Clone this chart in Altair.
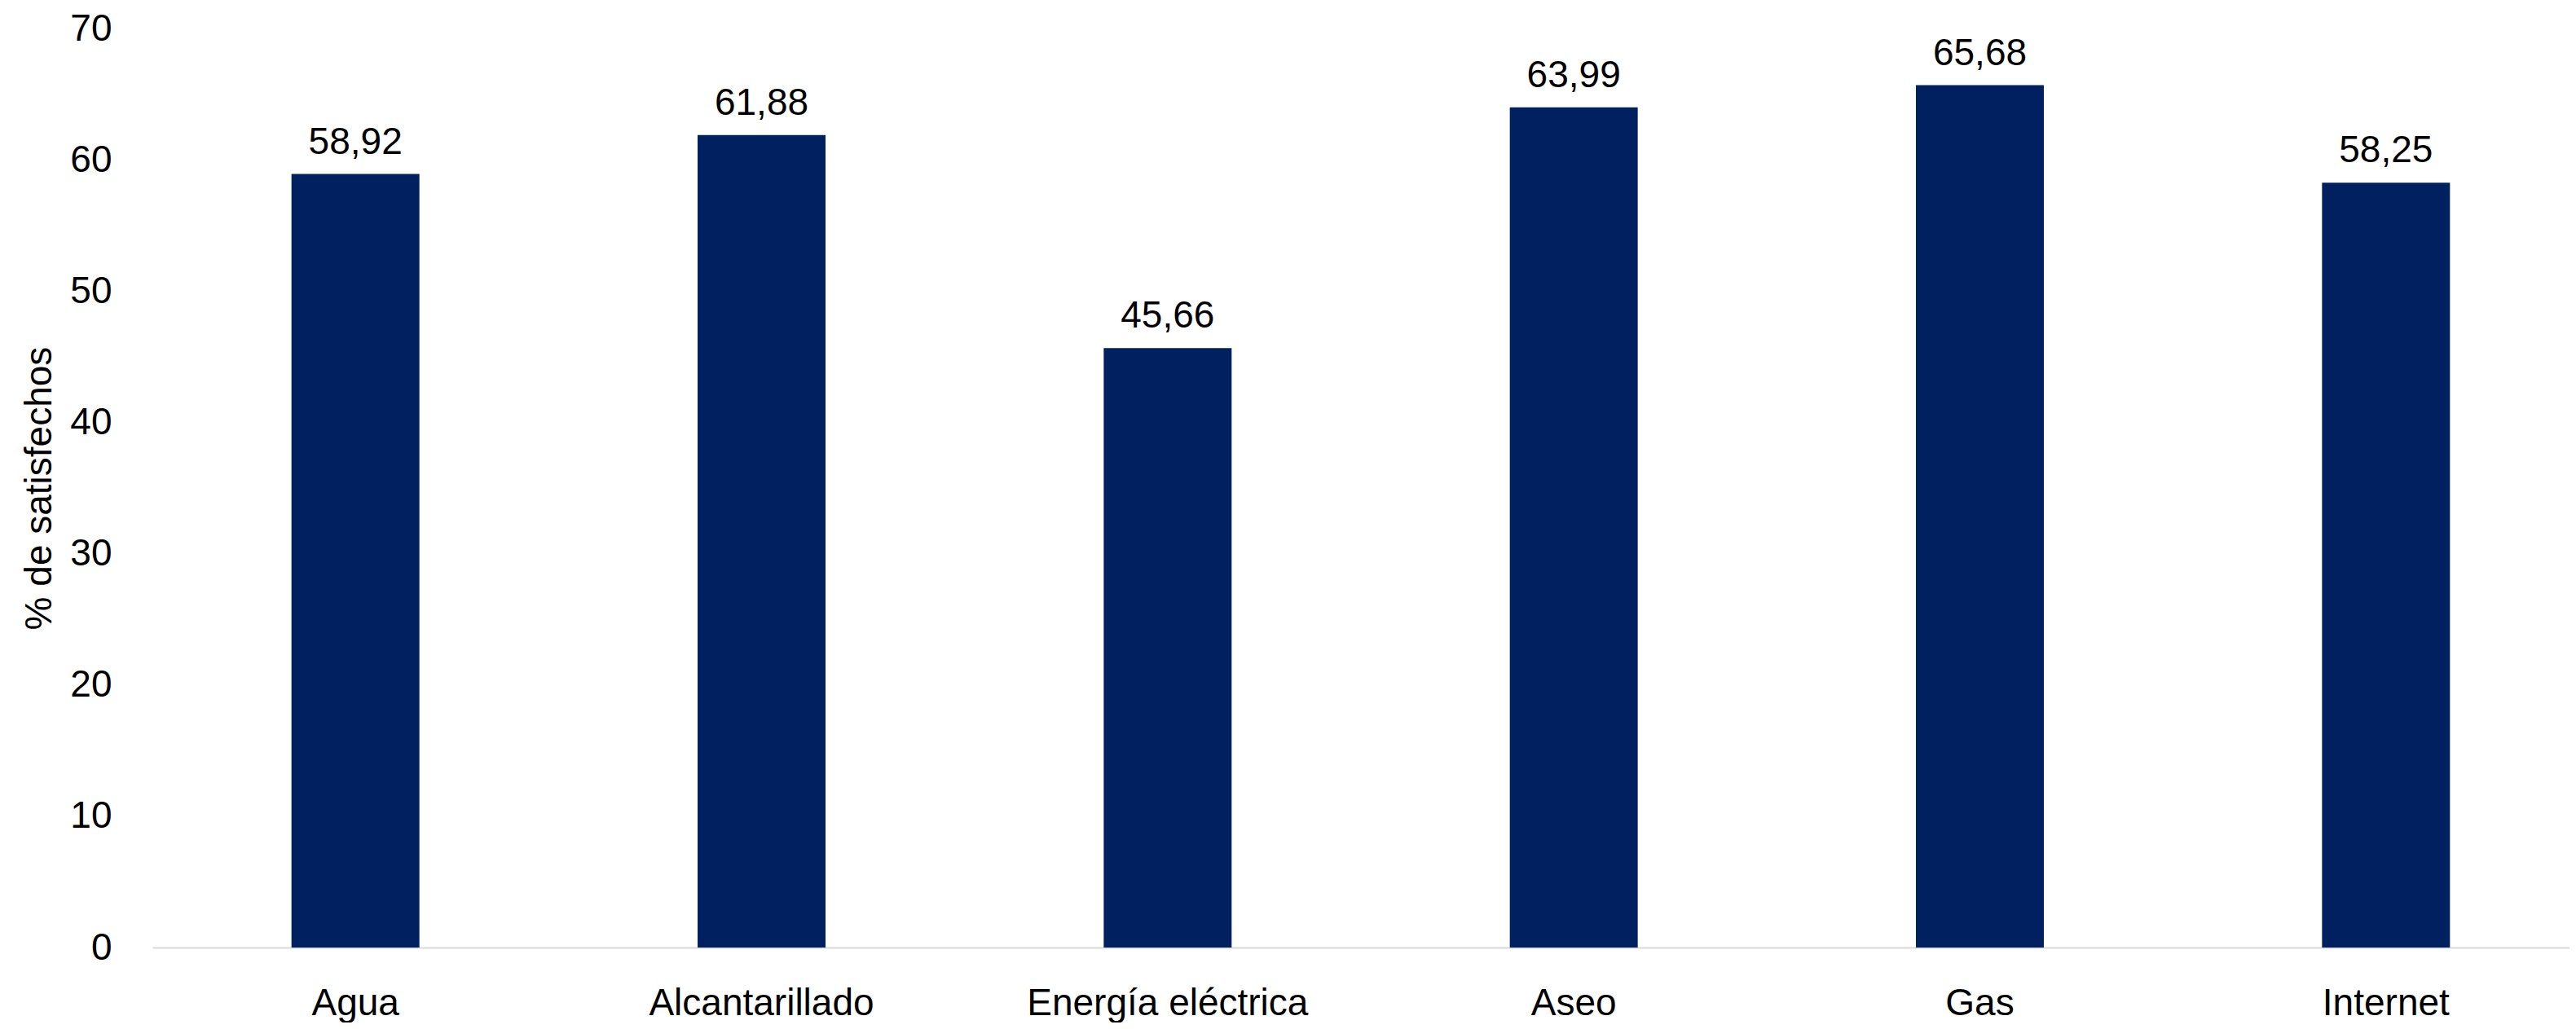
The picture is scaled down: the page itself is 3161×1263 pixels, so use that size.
import altair as alt
import pandas as pd

categories = ["Agua", "Alcantarillado", "Energía eléctrica", "Aseo", "Gas", "Internet"]
values = [58.92, 61.88, 45.66, 63.99, 65.68, 58.25]
y_ticks = [0, 10, 20, 30, 40, 50, 60, 70]

df = pd.DataFrame({
    "servicio": categories,
    "valor": values,
    "etiqueta": [f"{v:.2f}".replace(".", ",") for v in values],
})

FONT = "Liberation Sans"
FS = 46
W = 2966
H = 1128

x_scale = alt.Scale(range=[0, 2990], paddingInner=0.685, paddingOuter=0.3425)
y_scale = alt.Scale(domain=[0, 70], nice=False)

bars = alt.Chart(df).mark_bar(color="#002060").encode(
    x=alt.X(
        "servicio:N",
        sort=categories,
        scale=x_scale,
        axis=alt.Axis(
            title=None, labelAngle=0, labelFont=FONT, labelFontSize=FS, labelColor="#000000",
            labelBaseline="alphabetic", labelPadding=82, labelLimit=2000, ticks=False,
            domainColor="#d9d9d9", domainWidth=2, grid=False,
        ),
    ),
    y=alt.Y(
        "valor:Q",
        scale=y_scale,
        axis=alt.Axis(
            title="% de satisfechos", values=y_ticks, labelFont=FONT, labelFontSize=FS,
            labelColor="#000000", labelPadding=50, ticks=False, domain=False, grid=False,
            titleFont=FONT, titleFontSize=FS, titleFontWeight="normal", titleColor="#000000",
            titleX=-125, titleY=H / 2, titleBaseline="alphabetic", titleAngle=270,
        ),
    ),
)

labels = alt.Chart(df).mark_text(
    font=FONT, fontSize=FS, color="#000000", baseline="alphabetic", dy=-25
).encode(
    x=alt.X("servicio:N", sort=categories, scale=x_scale),
    y=alt.Y("valor:Q", scale=y_scale),
    text="etiqueta:N",
)

chart = (
    alt.layer(bars, labels)
    .properties(
        width=W,
        height=H,
        background="#ffffff",
        autosize=alt.AutoSizeParams(type="none"),
        padding={"left": 179, "top": 27, "right": 0, "bottom": 92},
    )
    .configure_view(strokeWidth=0)
    .configure_axis(grid=False)
)

chart.save("out.html", embed_options={"renderer": "svg", "actions": False})
